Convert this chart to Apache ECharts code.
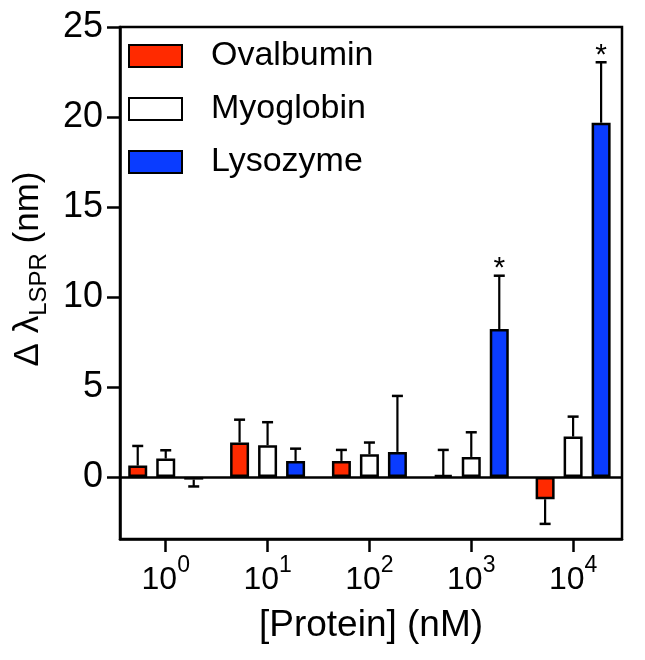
<!DOCTYPE html>
<html>
<head>
<meta charset="utf-8">
<script src="https://cdn.jsdelivr.net/npm/echarts@6/dist/echarts.min.js"></script>
<style>
  html, body { margin: 0; padding: 0; background: #fff; }
  #chart { width: 645px; height: 660px; }
</style>
</head>
<body>
<div id="chart"></div>
<script>
// ---- data ----
var concPositions = [0, 1, 2, 3, 4];          // log10 of [Protein] (nM)
var tickExponents = ['0', '1', '2', '3', '4']; // x tick labels 10^n
var yTicks = [0, 5, 10, 15, 20, 25];
var seriesNames = ['Ovalbumin', 'Myoglobin', 'Lysozyme'];

var ovalbumin    = [0.63, 1.91, 0.89, 0.10, -1.24];
var ovalbuminErr = [1.09, 1.27, 0.61, 1.40, 1.37];
var myoglobin    = [1.02, 1.76, 1.26, 1.11, 2.24];
var myoglobinErr = [0.46, 1.28, 0.65, 1.37, 1.11];
var lysozyme     = [-0.15, 0.89, 1.39, 8.22, 19.68];
var lysozymeErr  = [0.38, 0.68, 3.11, 2.96, 3.36];
var lysozymeSig  = ['', '', '', '*', '*'];
var ovalbuminSig = ['', '', '', '', ''];
var myoglobinSig = ['', '', '', '', ''];

// ---- styles ----
var FONT = "'Liberation Sans', Arial, Helvetica, sans-serif";
var colors = ['#ff2a00', '#ffffff', '#0a3cff'];
var BAR_W = 19, BAR_GAP = 9;

var values = [ovalbumin, myoglobin, lysozyme];
var errs = [ovalbuminErr, myoglobinErr, lysozymeErr];
var sigs = [ovalbuminSig, myoglobinSig, lysozymeSig];

var series = [];
seriesNames.forEach(function (name, i) {
  var s = {
    name: name,
    type: 'bar',
    barWidth: BAR_W,
    barGap: (BAR_GAP / BAR_W * 100) + '%',
    itemStyle: { color: colors[i], borderColor: '#000', borderWidth: 2.5 },
    data: concPositions.map(function (x, k) { return [x, values[i][k]]; }),
    z: 2
  };
  if (i === 0) {
    s.markLine = {
      silent: true, symbol: 'none', animation: false,
      label: { show: false },
      lineStyle: { color: '#000', width: 2.5, type: 'solid' },
      data: [{ yAxis: 0 }]
    };
  }
  series.push(s);
});

seriesNames.forEach(function (name, i) {
  series.push({
    type: 'custom',
    z: 3,
    silent: true,
    data: concPositions.map(function (x, k) { return [x, values[i][k], errs[i][k], k]; }),
    renderItem: function (params, api) {
      var x = api.value(0), v = api.value(1), e = api.value(2), k = api.value(3);
      var sign = v < 0 ? -1 : 1;
      var p0 = api.coord([x, v]);
      var p1 = api.coord([x, v + sign * e]);
      var cx = p0[0] + (i - 1) * (BAR_W + BAR_GAP);
      var children = [
        { type: 'line', shape: { x1: cx, y1: p0[1], x2: cx, y2: p1[1] },
          style: { stroke: '#000', lineWidth: 2.2 } },
        { type: 'line', shape: { x1: cx - 5.5, y1: p1[1], x2: cx + 5.5, y2: p1[1] },
          style: { stroke: '#000', lineWidth: 2.5 } }
      ];
      var sig = sigs[i][k];
      if (sig) {
        children.push({
          type: 'text',
          style: { text: sig, x: cx, y: p1[1] + 8, align: 'center', verticalAlign: 'bottom',
                   font: '30px ' + FONT, fill: '#000' }
        });
      }
      return { type: 'group', children: children };
    }
  });
});

var chart = echarts.init(document.getElementById('chart'), null, { renderer: 'canvas' });
chart.setOption({
  animation: false,
  backgroundColor: '#fff',
  grid: { left: 120, top: 27, width: 502, height: 512, show: true,
          borderColor: '#000', borderWidth: 2.5, backgroundColor: 'transparent' },
  legend: {
    data: seriesNames,
    orient: 'vertical',
    left: 128, top: 39,
    padding: 0,
    icon: 'rect',
    itemWidth: 53, itemHeight: 22, itemGap: 19,
    textStyle: { fontFamily: FONT, fontSize: 34, color: '#000', padding: [0, 0, 0, 24] }
  },
  xAxis: {
    type: 'value',
    min: -0.449, max: 4.48,
    splitLine: { show: false },
    axisLine: { show: true, onZero: false, lineStyle: { color: '#000', width: 2.5 } },
    axisTick: { show: true, length: 13, lineStyle: { color: '#000', width: 2.5 }, customValues: concPositions },
    axisLabel: {
      customValues: concPositions,
      margin: 15,
      formatter: function (val) { return '{b|10}{p|' + tickExponents[Math.round(val)] + '}'; },
      rich: {
        b: { fontFamily: FONT, fontSize: 32, lineHeight: 32, padding: [10, 0, 0, 0], verticalAlign: 'top', color: '#000' },
        p: { fontFamily: FONT, fontSize: 23, lineHeight: 23, verticalAlign: 'top', color: '#000' }
      }
    }
  },
  yAxis: {
    type: 'value',
    min: -3.45, max: 25,
    splitLine: { show: false },
    axisLine: { show: true, onZero: false, lineStyle: { color: '#000', width: 2.5 } },
    axisTick: { show: true, length: 13, lineStyle: { color: '#000', width: 2.5 }, customValues: yTicks },
    axisLabel: { customValues: yTicks, margin: 17, fontFamily: FONT, fontSize: 36, color: '#000' }
  },
  graphic: [
    {
      type: 'text', x: 28, y: 269, rotation: Math.PI / 2,
      style: {
        text: '{a|\u0394 \u03bb}{s|LSPR}{a| (nm)}',
        align: 'center', verticalAlign: 'middle', fill: '#000',
        rich: {
          a: { fontFamily: FONT, fontSize: 35, lineHeight: 35, verticalAlign: 'top', fill: '#000' },
          s: { fontFamily: FONT, fontSize: 24, lineHeight: 24, padding: [17, 0, 0, 0], verticalAlign: 'top', fill: '#000' }
        }
      }
    },
    {
      type: 'text', x: 371, y: 626,
      style: { text: '[Protein] (nM)', align: 'center', verticalAlign: 'middle',
               font: '37px ' + FONT, fill: '#000' }
    }
  ],
  series: series
});
</script>
</body>
</html>
